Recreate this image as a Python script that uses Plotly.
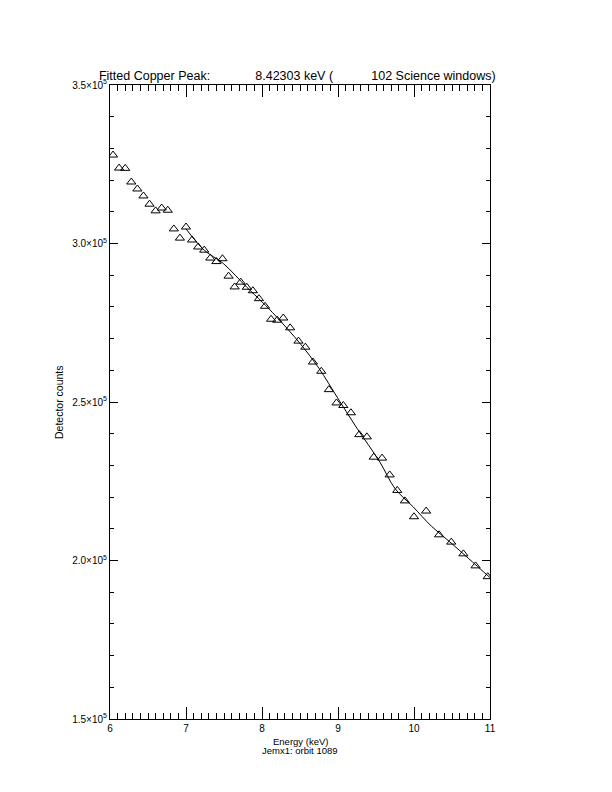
import plotly.graph_objects as go

# Observed spectrum points (energy keV, detector counts)
energy = [6.04, 6.12, 6.20, 6.28, 6.36, 6.44, 6.52, 6.60, 6.68, 6.76,
          6.84, 6.92, 7.00, 7.08, 7.16, 7.24, 7.32, 7.40, 7.48, 7.56,
          7.64, 7.72, 7.80, 7.88, 7.96, 8.04, 8.12, 8.20, 8.28, 8.37,
          8.48, 8.57, 8.67, 8.78, 8.88, 8.98, 9.07, 9.17, 9.28, 9.38,
          9.47, 9.58, 9.68, 9.78, 9.88, 10.00, 10.16, 10.33, 10.49, 10.65,
          10.81, 10.97]
counts = [327900, 323800, 323700, 319400, 317200, 315000, 312400, 310300, 311200, 310500,
          304600, 301700, 305200, 301100, 298900, 297900, 295400, 294300, 295200, 289700,
          286300, 287800, 286200, 285100, 282600, 280200, 276100, 275800, 276500, 273400,
          269200, 267300, 262600, 259700, 253900, 249700, 248900, 246600, 239700, 239000,
          232600, 232300, 227000, 222100, 218800, 213800, 215600, 208100, 205800, 202100,
          198300, 194900]

# Fitted model curve (energy keV, counts)
fit_energy = [7.00, 7.24, 7.49, 7.80, 8.00, 8.19, 8.50, 8.75, 9.00, 9.25,
              9.55, 9.75, 9.99, 10.23, 10.47, 10.72, 11.00]
fit_counts = [304600, 297900, 293700, 286200, 281600, 276900, 268500, 260600, 251100, 241700,
              231100, 222700, 216900, 210800, 205900, 200600, 194600]

NB = "\u00a0"
title_text = ("Fitted Copper Peak:" + NB * 13 + "8.42303 keV (" + NB * 11 +
              "102 Science windows)")
x_title = "Energy (keV)"
sub_title = "Jemx1: orbit 1089"
y_title = "Detector counts"

x_tickvals = [6, 7, 8, 9, 10, 11]
x_ticktext = ["6", "7", "8", "9", "10", "11"]
y_tickvals = [150000, 200000, 250000, 300000, 350000]
y_ticktext = ["1.5×10<sup>5</sup>", "2.0×10<sup>5</sup>", "2.5×10<sup>5</sup>",
              "3.0×10<sup>5</sup>", "3.5×10<sup>5</sup>"]

FONT = "Liberation Sans"

fig = go.Figure()
fig.add_trace(go.Scatter(x=fit_energy, y=fit_counts, mode="lines",
                         line=dict(color="black", width=1, shape="spline"),
                         showlegend=False, hoverinfo="skip"))
fig.add_trace(go.Scatter(x=energy, y=counts, mode="markers",
                         marker=dict(symbol="triangle-up-open", size=8,
                                     color="black", line=dict(color="black", width=1)),
                         showlegend=False))

fig.update_layout(
    width=604, height=784,
    paper_bgcolor="white", plot_bgcolor="white",
    margin=dict(l=102, r=122, t=77, b=73),
    font=dict(family=FONT, size=10, color="black"),
    title=dict(text=title_text, x=0.479, xanchor="center", y=1 - 72 / 784,
               yanchor="bottom", font=dict(family=FONT, size=12.5, color="black")),
    xaxis=dict(range=[6, 11], tickvals=x_tickvals, ticktext=x_ticktext,
               ticks="inside", ticklen=12, tickwidth=1, tickcolor="black",
               showline=True, linecolor="black", linewidth=1, mirror="ticks",
               showgrid=False, zeroline=False,
               minor=dict(dtick=0.1, ticks="inside", ticklen=6, tickcolor="black",
                          tickwidth=1, showgrid=False),
               tickfont=dict(family=FONT, size=10)),
    yaxis=dict(range=[150000, 350000], tickvals=y_tickvals, ticktext=y_ticktext,
               ticks="inside", ticklen=8, tickwidth=1, tickcolor="black",
               showline=True, linecolor="black", linewidth=1, mirror="ticks",
               showgrid=False, zeroline=False,
               minor=dict(dtick=10000, ticks="inside", ticklen=4, tickcolor="black",
                          tickwidth=1, showgrid=False),
               tickfont=dict(family=FONT, size=10)),
    annotations=[
        dict(text=x_title, xref="paper", yref="paper", x=0.5, y=0, yshift=-15,
             xanchor="center", yanchor="top", showarrow=False,
             font=dict(family=FONT, size=9.5)),
        dict(text=sub_title, xref="paper", yref="paper", x=0.5, y=0, yshift=-24,
             xanchor="center", yanchor="top", showarrow=False,
             font=dict(family=FONT, size=9.5)),
        dict(text=y_title, xref="paper", yref="paper", x=0, xshift=-51, y=0.5,
             xanchor="center", yanchor="middle", textangle=-90, showarrow=False,
             font=dict(family=FONT, size=10.5)),
    ],
)

fig.write_html("out.html")
